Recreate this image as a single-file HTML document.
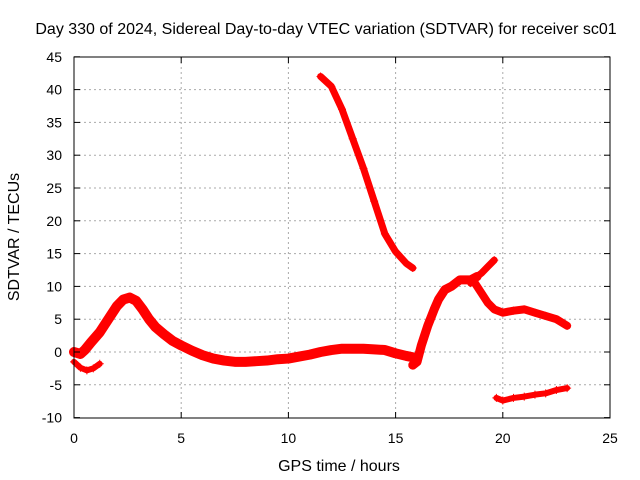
<!DOCTYPE html>
<html><head><meta charset="utf-8"><style>
body{margin:0;background:#fff}
svg{display:block;font-family:"Liberation Sans",sans-serif}
</style></head><body>
<svg id="chart" width="640" height="480" viewBox="0 0 640 480">
<text x="326" y="34" font-size="16" text-anchor="middle">Day 330 of 2024, Sidereal Day-to-day VTEC variation (SDTVAR) for receiver sc01</text>
<text x="339" y="471" font-size="16" text-anchor="middle">GPS time / hours</text>
<text transform="translate(19,237) rotate(-90)" font-size="16" text-anchor="middle">SDTVAR / TECUs</text>
<g id="grid"></g><g id="series"></g><g id="axes"></g>
</svg>
<script>
const xTicks=[0,5,10,15,20,25];
const yTicks=[-10,-5,0,5,10,15,20,25,30,35,40,45];
const s1t=[0,0.3,0.5,0.8,1.2,1.6,2.0,2.3,2.6,2.9,3.2,3.5,3.8,4.2,4.6,5,5.5,6,6.5,7,7.5,8,8.5,9,9.5,10,10.5,11,11.5,12,12.5,13,13.5,14,14.5,15,15.5,15.8];
const s1v=[0,-0.3,0.3,1.5,3,5,7,8,8.3,7.8,6.5,5,3.8,2.7,1.7,1,0.2,-0.5,-1,-1.3,-1.5,-1.5,-1.4,-1.3,-1.1,-1,-0.7,-0.4,0,0.3,0.5,0.5,0.5,0.4,0.3,-0.2,-0.6,-0.8];
const s2t=[0,0.3,0.6,0.9,1.2];
const s2v=[-1.5,-2.4,-2.8,-2.5,-1.8];
const s3t=[11.5,12,12.5,13,13.5,14,14.5,15,15.5,15.8];
const s3v=[42,40.5,37,32.5,28,23,18,15.3,13.5,12.8];
const s4t=[15.8,16,16.2,16.5,16.8,17,17.3,17.6,18,18.5,18.8];
const s4v=[-2,-1.5,1,4,6.5,8,9.5,10,11,11,11.5];
const s5t=[18.5,18.8,19,19.3,19.6];
const s5v=[10.5,11.5,12,13,14];
const s6t=[18.6,19,19.3,19.6,20,20.5,21,21.5,22,22.5,23];
const s6v=[11,9,7.5,6.5,6,6.3,6.5,6,5.5,5,4];
const s7t=[19.7,20,20.5,21,21.5,22,22.5,23];
const s7v=[-7,-7.4,-7,-6.8,-6.5,-6.3,-5.8,-5.5];
const x=t=>74+t*21.44, y=v=>352-v*6.56;
const NS='http://www.w3.org/2000/svg';
function mk(tag,attrs,parent){const e=document.createElementNS(NS,tag);for(const k in attrs)e.setAttribute(k,attrs[k]);parent.appendChild(e);return e;}
const grid=document.getElementById('grid'),axes=document.getElementById('axes'),ser=document.getElementById('series');
xTicks.forEach(t=>{
 if(t>0&&t<25){const g=mk('line',{x1:x(t),x2:x(t),y1:57,y2:418,stroke:'#aaa','stroke-dasharray':'2,3'},grid);
 
 }
 const l=mk('text',{x:x(t),y:443,'font-size':14,'text-anchor':'middle'},axes);l.textContent=t;
 
 
 mk('line',{x1:x(t),x2:x(t),y1:418,y2:412,stroke:'#000'},axes);
 mk('line',{x1:x(t),x2:x(t),y1:57,y2:63,stroke:'#000'},axes);
});
yTicks.forEach(v=>{
 if(v>-10&&v<45){const g=mk('line',{x1:74,x2:610,y1:y(v),y2:y(v),stroke:'#aaa','stroke-dasharray':'2,3'},grid);
 
 }
 const l=mk('text',{x:62,y:y(v)+5,'font-size':14,'text-anchor':'end'},axes);l.textContent=v;
 
 
 mk('line',{x1:74,x2:80,y1:y(v),y2:y(v),stroke:'#000'},axes);
 mk('line',{x1:610,x2:604,y1:y(v),y2:y(v),stroke:'#000'},axes);
});
const fr=mk('rect',{x:74,y:57,width:536,height:361,fill:'none',stroke:'#000'},axes);


[[s1t,s1v,10],[s2t,s2v,6],[s3t,s3v,7],[s4t,s4v,9],[s5t,s5v,7],[s6t,s6v,8],[s7t,s7v,6]].forEach(([T,V,w],i)=>{
 const p=mk('polyline',{points:T.map((t,j)=>x(t)+','+y(V[j])).join(' '),fill:'none',stroke:'#f00','stroke-width':w,'stroke-linejoin':'round','stroke-linecap':'round'},ser);
 
 
 T.forEach((t,j)=>{const m=mk('path',{d:`M${x(t)-4},${y(V[j])}h8M${x(t)},${y(V[j])-4}v8`,stroke:'#f00','stroke-width':1},ser);
 
 });
});
</script>
</body></html>
